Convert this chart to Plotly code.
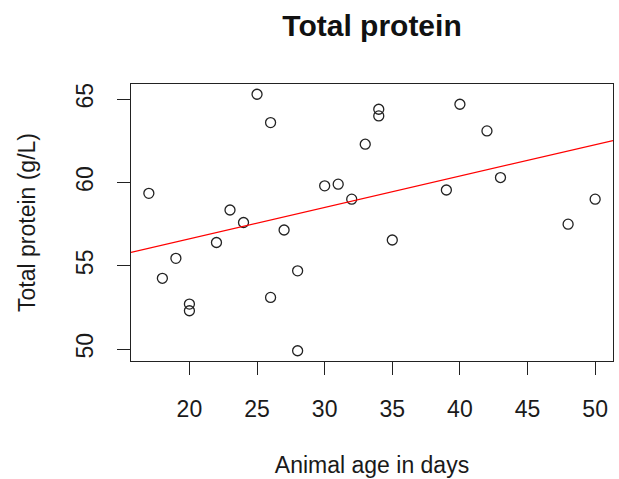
import numpy as np
import plotly.graph_objects as go

# Animal age (days) and total serum protein (g/L)
age_days = [17, 18, 19, 20, 20, 22, 23, 24, 25, 26, 26, 27, 28, 28,
            30, 31, 32, 33, 34, 34, 35, 39, 40, 42, 43, 48, 50]
total_protein = [59.35, 54.25, 55.45, 52.7, 52.3, 56.4, 58.35, 57.6, 65.3,
                 63.6, 53.1, 57.15, 54.7, 49.9, 59.8, 59.9, 59.0, 62.3,
                 64.4, 64.0, 56.55, 59.55, 64.7, 63.1, 60.3, 57.5, 59.0]

x_ticks = [20, 25, 30, 35, 40, 45, 50]
y_ticks = [50, 55, 60, 65]

title_text = "Total protein"
x_title = "Animal age in days"
y_title = "Total protein (g/L)"


def padded_range(values, frac=0.04):
    lo, hi = min(values), max(values)
    pad = (hi - lo) * frac
    return [lo - pad, hi + pad]


x_range = padded_range(age_days)
y_range = padded_range(total_protein)

# Least-squares fit, drawn across the full width of the plot
slope, intercept = np.polyfit(age_days, total_protein, 1)
fit_x = np.array(x_range)
fit_y = intercept + slope * fit_x

FONT = "Liberation Sans, Arial, sans-serif"

fig = go.Figure()
fig.add_trace(go.Scatter(
    x=age_days, y=total_protein, mode="markers",
    marker=dict(symbol="circle-open", size=10, color="#222222",
                line=dict(width=1.3, color="#222222")),
    showlegend=False, hoverinfo="x+y",
))
fig.add_trace(go.Scatter(
    x=fit_x, y=fit_y, mode="lines",
    line=dict(color="#ff0000", width=1.2),
    showlegend=False, hoverinfo="skip",
))

axis_common = dict(
    showgrid=False, zeroline=False,
    showline=True, linecolor="#222222", linewidth=1.2, mirror=True,
    ticks="outside", ticklen=13, tickwidth=1.2, tickcolor="#222222",
    tickfont=dict(family=FONT, size=23, color="#1a1a1a"),
)

fig.update_layout(
    width=619, height=479,
    margin=dict(l=131, r=6, t=84, b=118),
    paper_bgcolor="white", plot_bgcolor="white",
    title=dict(text="<b>" + title_text + "</b>", xref="container", yref="container",
               x=372 / 619, y=1 - 25 / 479, xanchor="center", yanchor="middle",
               font=dict(family=FONT, size=30, color="#111111")),
    xaxis=dict(range=x_range, tickvals=x_ticks, ticklabelstandoff=14,
               title=dict(text=x_title, standoff=36,
                          font=dict(family=FONT, size=23, color="#1a1a1a")),
               **axis_common),
    yaxis=dict(range=y_range, tickvals=y_ticks, tickangle=-90, ticklabelstandoff=15,
               title=dict(text=y_title, standoff=29,
                          font=dict(family=FONT, size=23, color="#1a1a1a")),
               **axis_common),
)

fig.write_html("out.html")
